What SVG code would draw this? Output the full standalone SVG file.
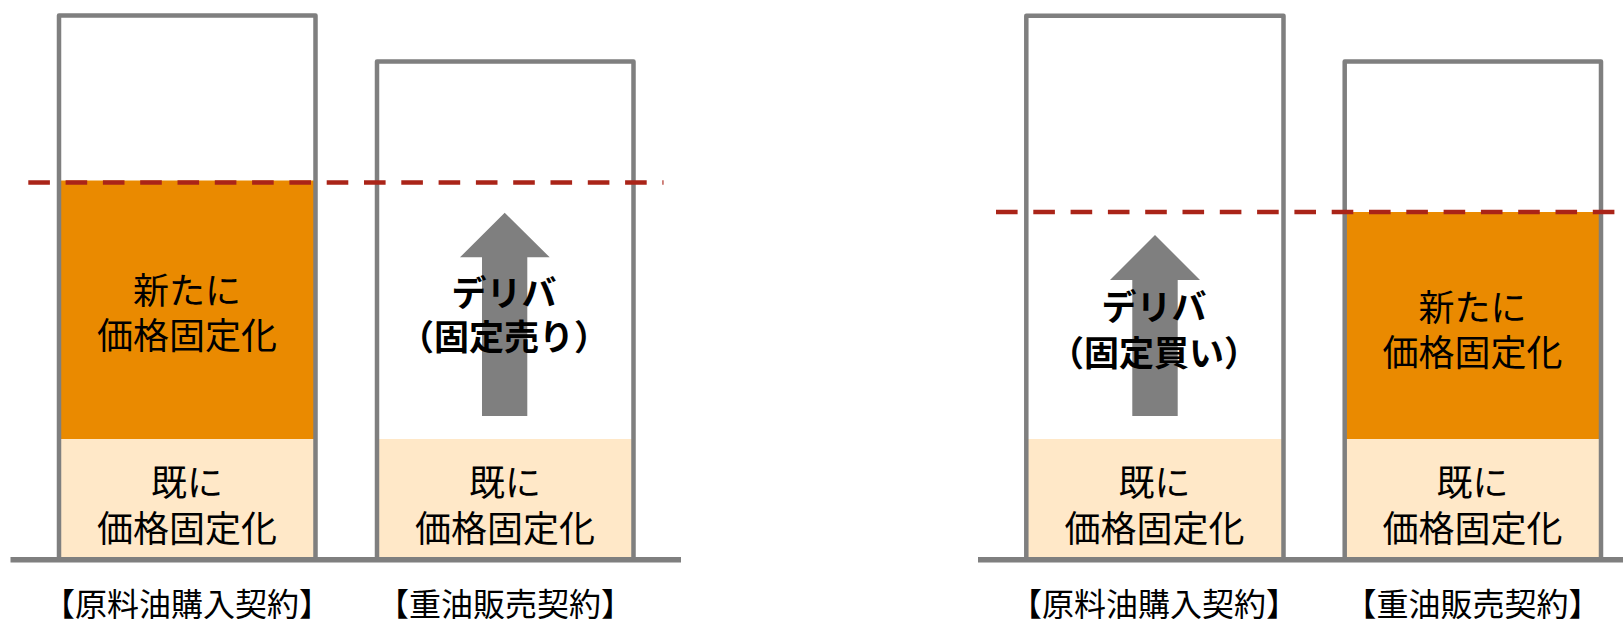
<svg xmlns="http://www.w3.org/2000/svg" width="1623" height="619" viewBox="0 0 1623 619">
<style>
.box{fill:none;stroke:#7f7f7f;stroke-width:4.5;stroke-linejoin:round}
.base{stroke:#7f7f7f;stroke-width:5.5}
.new{fill:#ea8a00}
.old{fill:#ffe8c8}
.dash{stroke:#aa2418;stroke-width:4.5;stroke-dasharray:21.6 15.7;fill:none}
.arrow{fill:#7f7f7f}
text{font-family:"Noto Sans CJK JP","Noto Sans CJK SC",sans-serif;fill:#000;text-anchor:middle;dominant-baseline:central}
.t{font-size:36px}
.b{font-size:35px;font-weight:bold}
.l{font-size:32px}
</style>
<rect width="1623" height="619" fill="#fff"/>
<g id="left-purchase">
<rect class="new" x="59" y="180.5" width="256.5" height="258.5"/>
<rect class="old" x="59" y="439" width="256.5" height="120"/>
<path class="box" d="M59,559 V15.5 H315.5 V559"/>
<text class="t"><tspan x="187" y="287.5">新たに</tspan><tspan x="187" y="332.5">価格固定化</tspan></text>
<text class="t"><tspan x="187" y="479.5">既に</tspan><tspan x="187" y="525.8">価格固定化</tspan></text>
<text class="l" x="187" y="602">【原料油購入契約】</text>
</g>
<g id="left-sale">
<rect class="old" x="377" y="439" width="256.5" height="120"/>
<path class="box" d="M377,559 V61.5 H633.5 V559"/>
<path class="arrow" d="M504.7,212.7 L549.7,257.3 H527.3 V416 H482 V257.3 H460 Z"/>
<text class="b"><tspan x="504" y="289.5">デリバ</tspan><tspan x="504" y="334">（固定売り）</tspan></text>
<text class="t"><tspan x="505" y="479.5">既に</tspan><tspan x="505" y="525.8">価格固定化</tspan></text>
<text class="l" x="505" y="602">【重油販売契約】</text>
</g>
<g id="right-purchase">
<rect class="old" x="1026.3" y="439" width="257.2" height="120"/>
<path class="box" d="M1026.3,559 V15.7 H1283.5 V559"/>
<path class="arrow" d="M1155,235 L1200,280 H1177.7 V416 H1132.3 V280 H1110 Z"/>
<text class="b"><tspan x="1154" y="304">デリバ</tspan><tspan x="1154" y="350">（固定買い）</tspan></text>
<text class="t"><tspan x="1154.5" y="479.5">既に</tspan><tspan x="1154.5" y="525.8">価格固定化</tspan></text>
<text class="l" x="1154" y="602">【原料油購入契約】</text>
</g>
<g id="right-sale">
<rect class="new" x="1344.7" y="212" width="256.3" height="227"/>
<rect class="old" x="1344.7" y="439" width="256.3" height="120"/>
<path class="box" d="M1344.7,559 V61.5 H1601 V559"/>
<text class="t"><tspan x="1472.5" y="305">新たに</tspan><tspan x="1472.5" y="350">価格固定化</tspan></text>
<text class="t"><tspan x="1472.5" y="479.5">既に</tspan><tspan x="1472.5" y="525.8">価格固定化</tspan></text>
<text class="l" x="1472.5" y="602">【重油販売契約】</text>
</g>
<g id="connectors">
<line class="base" x1="10.5" y1="559.7" x2="681" y2="559.7"/>
<line class="base" x1="978" y1="559.7" x2="1623" y2="559.7"/>
<line class="dash" x1="28.3" y1="182.5" x2="663.5" y2="182.5"/>
<line class="dash" x1="996" y1="212" x2="1615" y2="212"/>
</g>
</svg>
